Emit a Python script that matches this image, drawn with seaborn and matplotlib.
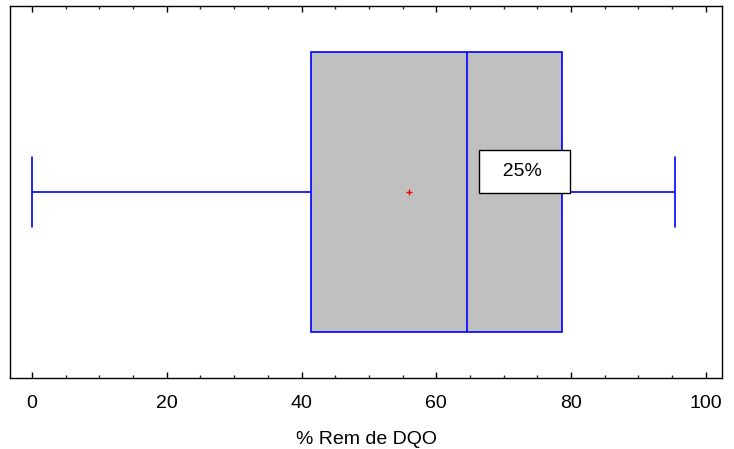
import matplotlib
matplotlib.use("Agg")
import matplotlib.pyplot as plt
import seaborn as sns
import pandas as pd
import numpy as np
from matplotlib.ticker import MultipleLocator

# Values (min, Q1, median, Q3, max)
rem_dqo = [0.0, 41.4, 64.5, 78.6, 95.4]
xlabel = "% Rem de DQO"
note_text = "25%"
note_x = 73.1

sns.set_theme(style="white")
plt.rcParams['font.family'] = ['Liberation Sans', 'DejaVu Sans']
plt.rcParams['text.color'] = 'black'

df = pd.DataFrame({"rem": rem_dqo, "grp": ["a"] * len(rem_dqo)})

fig = plt.figure(figsize=(7.34, 4.49), dpi=100)
ax = fig.add_axes([10 / 734, 1 - 378 / 449, 712 / 734, 372 / 449])

blue = "#0000FF"
sns.boxplot(data=df, x="rem", y="grp", orient="h", ax=ax, width=0.753,
            color="#C0C0C0", linecolor=blue, linewidth=1.2, whis=1.5,
            showmeans=True, capwidths=0.188,
            meanprops=dict(marker="+", markeredgecolor="red", markerfacecolor="red",
                           markersize=5, markeredgewidth=1.0),
            boxprops=dict(facecolor="#C0C0C0", edgecolor=blue),
            medianprops=dict(color=blue, linewidth=1.2),
            whiskerprops=dict(color=blue, linewidth=1.2),
            capprops=dict(color=blue, linewidth=1.2),
            fill=True)

ax.set_xlim(-3.26, 102.4)
ax.set_ylim(0.5, -0.5)
ax.set_yticks([])
ax.set_ylabel("")
ax.set_xlabel(xlabel, fontsize=14, color="black", labelpad=14)
ax.xaxis.set_major_locator(MultipleLocator(20))
ax.xaxis.set_minor_locator(MultipleLocator(5))
ax.tick_params(axis="x", which="major", direction="in", length=4, width=1,
               top=True, bottom=True, labelsize=14, pad=12, colors="black")
ax.tick_params(axis="x", which="minor", direction="in", length=2.5, width=1,
               top=True, bottom=True)
for s in ax.spines.values():
    s.set_color("black")
    s.set_linewidth(1.0)
    s.set_visible(True)

ax.text(note_x, -0.055, "  " + note_text + "   ", ha="center", va="center", fontsize=14,
        color="black",
        bbox=dict(boxstyle="square,pad=0.65", fc="white", ec="black", lw=1.0), zorder=10)

fig.savefig("out.png", dpi=100)
